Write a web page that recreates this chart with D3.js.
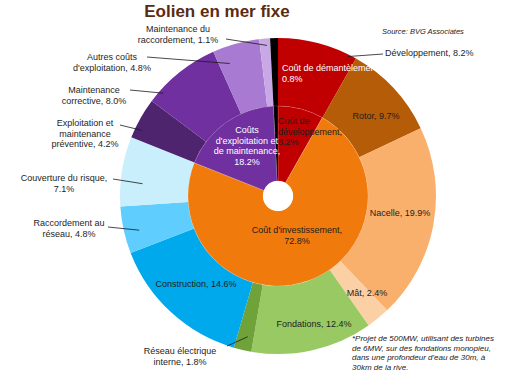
<!DOCTYPE html>
<html>
<head>
<meta charset="utf-8">
<script src="https://cdn.jsdelivr.net/npm/d3@7"></script>
<style>
  body { margin: 0; background: #fff; }
  svg { display: block; font-family: "Liberation Sans", Arial, sans-serif; }
</style>
</head>
<body>
<svg id="chart" width="515" height="386"></svg>
<script>
// outer ring : detail of costs (share of total, %)
const outerNames = ["Développement", "Rotor", "Nacelle", "Mât", "Fondations",
  "Réseau électrique interne", "Construction", "Raccordement au réseau",
  "Couverture du risque", "Exploitation et maintenance préventive",
  "Maintenance corrective", "Autres coûts d'exploitation",
  "Maintenance du raccordement", "Démantèlement"];
const outerValues = [8.2, 9.7, 19.9, 2.4, 12.4, 1.8, 14.6, 4.8, 7.1, 4.2, 8.0, 4.8, 1.1, 0.8];

// inner ring : cost families
const innerNames = ["Coût de développement", "Coût d'investissement",
  "Coûts d'exploitation et de maintenance", "Coût de démantèlement"];
const innerValues = [8.2, 72.8, 18.2, 0.8];

const titleText = "Eolien en mer fixe";
const sourceText = "Source: BVG Associates";
const noteLines = ["*Projet de 500MW, utilisant des turbines",
  "de 6MW, sur des fondations monopieu,",
  "dans une profondeur d'eau de 30m, à",
  "30km de la rive."];

const outerColors = ["#c00000", "#b45c07", "#f9b06c", "#fcd0a5", "#99c963",
  "#6fa33a", "#00a9ec", "#5fcdfd", "#c9eefc", "#4f246f", "#7030a0",
  "#a87ad2", "#c9a8e6", "#000000"];
const innerColors = ["#c00000", "#f07a0b", "#7030a0", "#000000"];

const svg = d3.select("#chart");
const cx = 278, cy = 196;
const rHole = 15, rMid = 90, rOut = 158;
const fmt = d3.format(".1f");

const pie = d3.pie().sort(null).value(d => d);
const outerArcs = pie(outerValues);
const innerArcs = pie(innerValues);

const g = svg.append("g").attr("transform", `translate(${cx},${cy})`);

const outerArc = d3.arc().innerRadius(rMid).outerRadius(rOut);
const innerArc = d3.arc().innerRadius(rHole).outerRadius(rMid);

g.selectAll(".outer")
  .data(outerArcs)
  .join("path")
  .attr("class", "outer")
  .attr("d", outerArc)
  .attr("fill", (d, i) => outerColors[i]);

g.selectAll(".inner")
  .data(innerArcs)
  .join("path")
  .attr("class", "inner")
  .attr("d", innerArc)
  .attr("fill", (d, i) => innerColors[i])
  .attr("stroke", "rgba(255,255,255,0.25)")
  .attr("stroke-width", 0.6);

// split "name, value%" into lines after given word counts
function labelLines(name, value, breaks, comma) {
  const words = (name + (comma === false ? " " : ", ") + fmt(value) + "%").split(" ");
  const lines = [];
  let start = 0;
  breaks.concat([words.length]).forEach(b => {
    lines.push(words.slice(start, b).join(" "));
    start = b;
  });
  return lines;
}

function pointOnSlice(a, t, r) {
  const ang = a.startAngle + (a.endAngle - a.startAngle) * t;
  return [cx + r * Math.sin(ang), cy - r * Math.cos(ang)];
}

// outer labels with leader lines
const outsideLabels = [
  { i: 0, breaks: [], x: 385, y: 53, anchor: "start", from: [383, 54], t: 0.9, r: 156 },
  { i: 5, breaks: [2], x: 180, y: 351, anchor: "middle", from: [227, 346], t: 0.37, r: 144 },
  { i: 7, breaks: [2], x: 69, y: 223, anchor: "middle", from: [108, 227], t: 0.42, r: 143 },
  { i: 8, breaks: [3], x: 64, y: 178, anchor: "middle", from: [113, 179], t: 0.35, r: 136 },
  { i: 9, breaks: [2, 3], x: 85, y: 123, anchor: "middle", from: [120, 125], t: 0.26, r: 151 },
  { i: 10, breaks: [1], x: 94, y: 90, anchor: "middle", from: [130, 90], t: 0.17, r: 154 },
  { i: 11, breaks: [2], x: 112, y: 57, anchor: "middle", from: [147, 57], t: 0.24, r: 141 },
  { i: 12, breaks: [2], x: 178, y: 29, anchor: "middle", from: [226, 39], t: 0.67, r: 151 }
];

// labels placed on the slices
const insideLabels = [
  { i: 1, x: 376, y: 116 },
  { i: 2, x: 400, y: 213 },
  { i: 3, x: 367, y: 293 },
  { i: 4, x: 314, y: 324 },
  { i: 6, x: 196, y: 284 }
];

const innerLabels = [
  { i: 0, breaks: [2, 3], x: 278, y: 121, anchor: "start", color: "#1e1e1e" },
  { i: 1, breaks: [2], x: 297, y: 230, anchor: "middle", color: "#1e1e1e" },
  { i: 2, breaks: [1, 3, 5], x: 247, y: 130, anchor: "middle", color: "#ffffff" },
  { i: 3, breaks: [3], x: 282, y: 68, anchor: "start", color: "#ffffff", comma: false, clip: true }
];

svg.append("defs").append("clipPath").attr("id", "clipDem")
  .append("rect").attr("x", 270).attr("y", 55).attr("width", 104).attr("height", 35);

const lineH = 10.6;

svg.selectAll(".leader")
  .data(outsideLabels)
  .join("line")
  .attr("class", "leader")
  .attr("x1", d => d.from[0])
  .attr("y1", d => d.from[1])
  .attr("x2", d => pointOnSlice(outerArcs[d.i], d.t, d.r)[0])
  .attr("y2", d => pointOnSlice(outerArcs[d.i], d.t, d.r)[1])
  .attr("stroke", "#1a1a1a")
  .attr("stroke-width", 0.8);

function drawLabel(sel, d, lines, color) {
  const t = sel.append("text")
    .attr("x", d.x)
    .attr("y", d.y)
    .attr("text-anchor", d.anchor || "middle")
    .attr("font-size", 9)
    .attr("fill", color);
  lines.forEach((l, k) => {
    t.append("tspan")
      .attr("x", d.x)
      .attr("y", d.y + k * lineH)
      .attr("dy", "0.35em")
      .text(l);
  });
  return t;
}

outsideLabels.forEach(d => {
  drawLabel(svg, d, labelLines(outerNames[d.i], outerValues[d.i], d.breaks), "#1e1e1e");
});

insideLabels.forEach(d => {
  drawLabel(svg, d, labelLines(outerNames[d.i], outerValues[d.i], []), "#1e1e1e");
});

innerLabels.forEach(d => {
  const t = drawLabel(svg, d, labelLines(innerNames[d.i], innerValues[d.i], d.breaks, d.comma), d.color);
  if (d.clip) t.attr("clip-path", "url(#clipDem)");
});

// white hole in the middle
g.append("circle").attr("r", rHole).attr("fill", "#fff");

svg.append("text")
  .attr("x", 217)
  .attr("y", 17)
  .attr("text-anchor", "middle")
  .attr("font-size", 17)
  .attr("font-weight", "bold")
  .attr("fill", "#5a2b10")
  .text(titleText);

svg.append("text")
  .attr("x", 382)
  .attr("y", 34)
  .attr("font-size", 7.5)
  .attr("font-style", "italic")
  .attr("fill", "#1a1a1a")
  .text(sourceText);

svg.selectAll(".note")
  .data(noteLines)
  .join("text")
  .attr("class", "note")
  .attr("x", 352)
  .attr("y", (d, i) => 341 + i * 9.6)
  .attr("font-size", 8)
  .attr("font-style", "italic")
  .attr("fill", "#1a1a1a")
  .text(d => d);
</script>
</body>
</html>
